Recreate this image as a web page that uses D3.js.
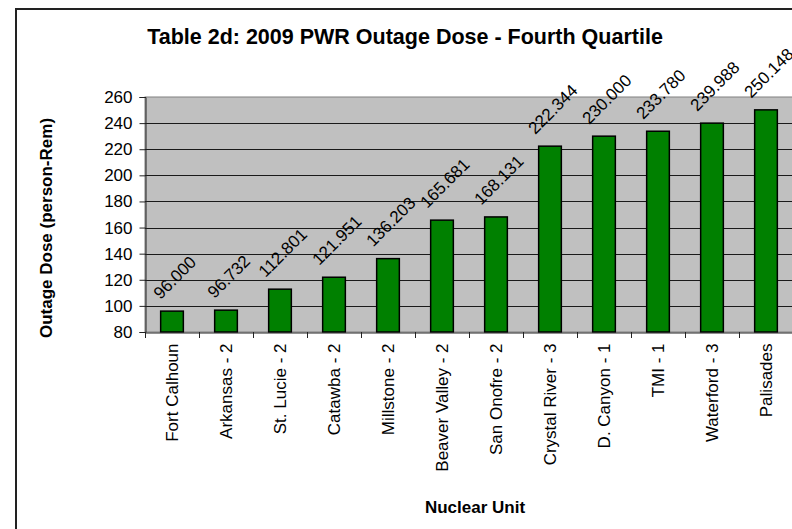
<!DOCTYPE html>
<html>
  <head>
    <script src="https://d3js.org/d3.v7.min.js"></script>
    <style>
      body { margin: 0; background: #fff; }
      text { font-family: "Liberation Sans", Arial, sans-serif; fill: #000; }
    </style>
  </head>
  <body>
    <svg id="chart" width="792" height="529"></svg>

    <script>
      // data
      const units = ["Fort Calhoun", "Arkansas - 2", "St. Lucie - 2", "Catawba - 2", "Millstone - 2",
                     "Beaver Valley - 2", "San Onofre - 2", "Crystal River - 3", "D. Canyon - 1",
                     "TMI - 1", "Waterford - 3", "Palisades"]
      const doses = [96.000, 96.732, 112.801, 121.951, 136.203, 165.681, 168.131, 222.344,
                     230.000, 233.780, 239.988, 250.148]
      const yTicks = [80, 100, 120, 140, 160, 180, 200, 220, 240, 260]

      var svg = d3.select("#chart")

      // chart area border (runs off the right and bottom edges)
      svg.append("rect")
        .attr("x", 16).attr("y", 9)
        .attr("width", 900).attr("height", 600)
        .attr("fill", "#fff")
        .attr("stroke", "#222")
        .attr("stroke-width", 2)

      const plotL = 145, plotR = 793, plotT = 97, plotB = 332

      var x = d3.scaleBand()
        .domain(units)
        .range([plotL, plotR])

      var y = d3.scaleLinear()
        .domain([80, 260])
        .range([plotB, plotT])

      // plot background
      svg.append("rect")
        .attr("x", plotL).attr("y", plotT)
        .attr("width", plotR - plotL).attr("height", plotB - plotT)
        .attr("fill", "#c0c0c0")
        .attr("stroke", "#808080")

      // gridlines
      svg.selectAll(".grid")
        .data(yTicks.slice(1, -1))
        .enter()
        .append("line")
        .attr("x1", plotL).attr("x2", plotR)
        .attr("y1", d => Math.round(y(d)) + 0.5)
        .attr("y2", d => Math.round(y(d)) + 0.5)
        .attr("stroke", "#1a1a1a")

      // y axis
      var yAxis = svg.append("g")
        .attr("transform", "translate(" + (plotL + 0.5) + ",0)")
        .call(d3.axisLeft(y).tickValues(yTicks).tickSize(6).tickPadding(7))
      yAxis.select(".domain").attr("stroke", "#222")
      yAxis.selectAll(".tick line").attr("stroke", "#222")
      yAxis.selectAll("text")
        .style("font-size", "17px")
        .style("font-family", "Liberation Sans, Arial, sans-serif")

      // bars
      var barW = x.bandwidth() * 0.42
      svg.selectAll(".bar")
        .data(doses)
        .enter()
        .append("rect")
        .attr("x", (d, i) => x(units[i]) + (x.bandwidth() - barW) / 2)
        .attr("y", d => y(d))
        .attr("width", barW)
        .attr("height", d => plotB - y(d))
        .attr("fill", "#008000")
        .attr("stroke", "#000")
        .attr("stroke-width", 1.5)

      // x axis
      var xAxis = svg.append("g")
        .attr("transform", "translate(0," + (plotB + 0.5) + ")")
        .call(d3.axisBottom(x).tickSize(0))
      xAxis.select(".domain").attr("stroke", "#222")
      xAxis.selectAll("text")
        .attr("transform", "rotate(-90)")
        .attr("x", -11)
        .attr("y", 0)
        .attr("dy", "0.35em")
        .style("text-anchor", "end")
        .style("font-size", "17px")
        .style("font-family", "Liberation Sans, Arial, sans-serif")

      // category separator ticks
      svg.selectAll(".xtick")
        .data(units)
        .enter()
        .append("line")
        .attr("x1", d => Math.round(x(d)) + 0.5)
        .attr("x2", d => Math.round(x(d)) + 0.5)
        .attr("y1", plotB)
        .attr("y2", plotB + 6)
        .attr("stroke", "#222")

      // value labels, rotated 45 degrees
      svg.selectAll(".lbl")
        .data(doses)
        .enter()
        .append("text")
        .text(d => d.toFixed(3))
        .style("font-size", "17px")
        .attr("text-anchor", "middle")
        .attr("dominant-baseline", "central")
        .attr("transform", function(d, i) {
          var L = this.getComputedTextLength()
          var cx = x(units[i]) + x.bandwidth() / 2 + 3
          var cy = y(d) - 15 - L * 0.354
          return "translate(" + cx + "," + cy + ") rotate(-45)"
        })

      // titles
      svg.append("text")
        .attr("x", 405)
        .attr("y", 44)
        .attr("text-anchor", "middle")
        .style("font-size", "21.5px")
        .style("font-weight", "bold")
        .text("Table 2d: 2009 PWR Outage Dose - Fourth Quartile")

      svg.append("text")
        .attr("transform", "translate(46,228) rotate(-90)")
        .attr("text-anchor", "middle")
        .attr("dominant-baseline", "central")
        .style("font-size", "17px")
        .style("font-weight", "bold")
        .text("Outage Dose (person-Rem)")

      svg.append("text")
        .attr("x", 475)
        .attr("y", 513)
        .attr("text-anchor", "middle")
        .style("font-size", "17px")
        .style("font-weight", "bold")
        .text("Nuclear Unit")
    </script>
  </body>
</html>
